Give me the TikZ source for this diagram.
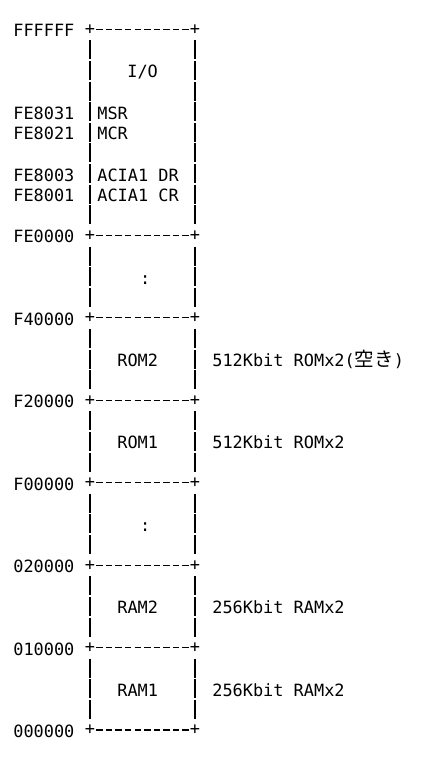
\documentclass[tikz,border=0pt]{standalone}
\usepackage{fontspec}
\setmonofont{DejaVu Sans Mono}
\newfontfamily\jpfont{Noto Sans CJK JP}
\newcommand\memfont{\ttfamily\fontsize{16.9}{20}\selectfont}

\tikzset{
    addr/.style={anchor=base west, inner sep=0pt, font=\memfont},
    area/.style={anchor=base west, inner sep=0pt, font=\memfont},
    note/.style={anchor=base west, inner sep=0pt, font=\memfont},
    corner/.style={inner sep=0pt, font=\memfont},
    hline/.style={dash pattern=on 6.5pt off 3.05pt, shorten <=6.3pt, shorten >=6.2pt},
    vline/.style={dash pattern=on 19pt off 1.61pt, shorten <=11.1pt, shorten >=11.1pt}
}

\begin{document}
\begin{tikzpicture}[x=1pt, y=-1pt, line width=1.3pt]
    \useasboundingbox[fill=white] (0,0) rectangle (438,763);

    % Block borders (left/right corners)
    \coordinate (b0l) at (90,29.3);  \coordinate (b0r) at (195,29.3);
    \coordinate (b1l) at (90,235.4); \coordinate (b1r) at (195,235.4);
    \coordinate (b2l) at (90,317.8); \coordinate (b2r) at (195,317.8);
    \coordinate (b3l) at (90,400.3); \coordinate (b3r) at (195,400.3);
    \coordinate (b4l) at (90,482.7); \coordinate (b4r) at (195,482.7);
    \coordinate (b5l) at (90,565.2); \coordinate (b5r) at (195,565.2);
    \coordinate (b6l) at (90,647.6); \coordinate (b6r) at (195,647.6);
    \coordinate (b7l) at (90,730.0); \coordinate (b7r) at (195,730.0);

    % Address labels
    \node[addr] (aFFFFFF) at (12.7,36.7)  {FFFFFF};
    \node[addr] (aFE8031) at (12.7,119.1) {FE8031};
    \node[addr] (aFE8021) at (12.7,139.8) {FE8021};
    \node[addr] (aFE8003) at (12.7,181.0) {FE8003};
    \node[addr] (aFE8001) at (12.7,201.6) {FE8001};
    \node[addr] (aFE0000) at (12.7,242.8) {FE0000};
    \node[addr] (aF40000) at (12.7,325.2) {F40000};
    \node[addr] (aF20000) at (12.7,407.7) {F20000};
    \node[addr] (aF00000) at (12.7,490.1) {F00000};
    \node[addr] (a020000) at (12.7,572.6) {020000};
    \node[addr] (a010000) at (12.7,655.0) {010000};
    \node[addr] (a000000) at (12.7,737.4) {000000};

    % Horizontal borders with + corners
    \foreach \b in {0,...,7} {
        \draw[hline] (b\b l) -- (b\b r);
        \node[corner] at (b\b l) {+};
        \node[corner] at (b\b r) {+};
    }

    % Vertical borders
    \foreach \a/\b in {0/1,1/2,2/3,3/4,4/5,5/6,6/7} {
        \draw[vline] (b\a l) -- (b\b l);
        \draw[vline] (b\a r) -- (b\b r);
    }

    % I/O area
    \node[area] (io)   at (126.7,77.9)  {I/O};
    \node[area] (msr)  at (96.7,119.1)  {MSR};
    \node[area] (mcr)  at (96.7,139.8)  {MCR};
    \node[area] (acdr) at (96.7,181.0)  {ACIA1 DR};
    \node[area] (accr) at (96.7,201.6)  {ACIA1 CR};

    % Memory areas
    \node[area] (gap1) at (139.5,284.0) {:};
    \node[area] (rom2) at (116.7,366.5) {ROM2};
    \node[area] (rom1) at (116.7,448.9) {ROM1};
    \node[area] (gap2) at (139.5,531.3) {:};
    \node[area] (ram2) at (116.7,613.8) {RAM2};
    \node[area] (ram1) at (116.7,696.2) {RAM1};

    % Device notes
    \node[note] (nrom2) at (211.7,366.5) {512Kbit ROMx2({\jpfont\fontsize{19.5}{20}\selectfont 空き})};
    \node[note] (nrom1) at (211.7,448.9) {512Kbit ROMx2};
    \node[note] (nram2) at (211.7,613.8) {256Kbit RAMx2};
    \node[note] (nram1) at (211.7,696.2) {256Kbit RAMx2};
\end{tikzpicture}
\end{document}
